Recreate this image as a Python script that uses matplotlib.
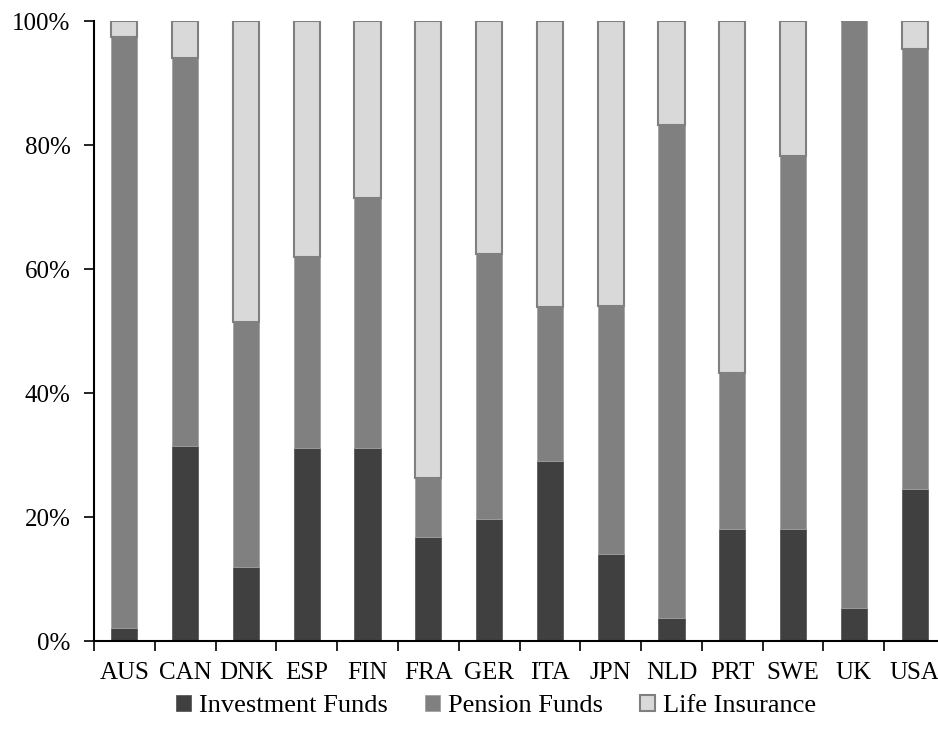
import matplotlib
matplotlib.use("Agg")
import matplotlib.pyplot as plt
import numpy as np
from matplotlib.ticker import FixedLocator, PercentFormatter

categories = ["AUS", "CAN", "DNK", "ESP", "FIN", "FRA", "GER", "ITA", "JPN", "NLD", "PRT", "SWE", "UK", "USA"]
investment_funds = [2.2, 31.5, 12.0, 31.2, 31.2, 16.8, 19.7, 29.0, 14.1, 3.7, 18.1, 18.1, 5.3, 24.6]
pension_cum_top = [97.5, 94.1, 51.5, 61.9, 71.4, 26.3, 62.4, 53.9, 54.1, 83.2, 43.3, 78.3, 100.0, 95.5]
pension_funds = [p - i for p, i in zip(pension_cum_top, investment_funds)]
life_insurance = [100.0 - p for p in pension_cum_top]
series_names = ["Investment Funds", "Pension Funds", "Life Insurance"]

plt.rcParams['font.family'] = ['Liberation Serif', 'DejaVu Serif']

W, H = 938, 744
fig = plt.figure(figsize=(W / 100, H / 100), dpi=100)
ax = fig.add_axes([94 / W, (H - 641.3) / H, (945 - 94) / W, (641.3 - 21) / H])

x = np.arange(len(categories))
width = 0.43
inv = np.array(investment_funds)
pen = np.array(pension_funds)
life = np.array(life_insurance)

b1 = ax.bar(x, inv, width, color="#404040", edgecolor="#5a5a5a", linewidth=0.6, label=series_names[0])
b2 = ax.bar(x, pen, width, bottom=inv, color="#808080", edgecolor="#a0a0a0", linewidth=0.6, label=series_names[1])
b3 = ax.bar(x, life, width, bottom=inv + pen, color="#d9d9d9", edgecolor="#808080", linewidth=1.5, label=series_names[2])

ax.set_xlim(-0.5, len(categories) - 0.5)
ax.set_ylim(0, 100)
ax.yaxis.set_major_locator(FixedLocator([0, 20, 40, 60, 80, 100]))
ax.yaxis.set_major_formatter(PercentFormatter(decimals=0))

ax.set_xticks(x)
ax.set_xticklabels(categories)
ax.set_xticks(np.arange(-0.5, len(categories), 1.0), minor=True)
ax.tick_params(axis='x', which='major', length=0, pad=15, labelsize=18)
ax.tick_params(axis='x', which='minor', length=7, width=1.2, direction='out', color='black')
ax.tick_params(axis='y', which='major', length=7, width=1.2, direction='out', pad=10, labelsize=18)

for s in ["top", "right"]:
    ax.spines[s].set_visible(False)
ax.spines["left"].set_linewidth(1.5)
ax.spines["bottom"].set_linewidth(1.5)
ax.set_axisbelow(False)

leg = fig.legend(handles=[b1, b2, b3], labels=series_names, loc="center",
                 bbox_to_anchor=(496 / W, 1 - 706 / H), ncol=3, frameon=False,
                 fontsize=19, handlelength=0.57, handleheight=0.57, handletextpad=0.3,
                 columnspacing=1.4)

fig.savefig("out.png", dpi=100)
